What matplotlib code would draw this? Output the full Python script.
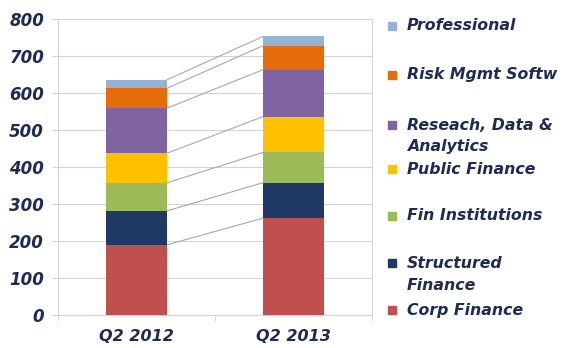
import numpy as np
import matplotlib
matplotlib.use("Agg")
import matplotlib.pyplot as plt
from matplotlib.patches import Rectangle

# revenue by business line, stacked bottom to top
periods = ["Q2 2012", "Q2 2013"]
segments = ["Corp Finance", "Structured\nFinance", "Fin Institutions", "Public Finance",
            "Reseach, Data &\nAnalytics", "Risk Mgmt Softw", "Professional"]
q2_2012 = [190, 92, 76, 80, 122, 54, 23]
q2_2013 = [262, 96, 82, 97, 127, 65, 25]
colors = ["#C0504D", "#1F3864", "#9BBB59", "#FFC000", "#8064A2", "#E46C0A", "#95B3D7"]

navy = "#1E2B52"
grid_col = "#D4D4D4"

values = np.array([q2_2012, q2_2013], dtype=float)
x = np.arange(len(periods))
width = 0.39

fig = plt.figure(figsize=(5.69, 3.48), dpi=100)
ax = fig.add_axes([0.102, 0.095, 0.552, 0.849])

bottoms = np.zeros(len(periods))
for i, name in enumerate(segments):
    ax.bar(x, values[:, i], width, bottom=bottoms, color=colors[i], zorder=3)
    bottoms += values[:, i]

# connector lines between the segment tops
tops = np.cumsum(values, axis=1)
for i in range(len(segments)):
    ax.plot([x[0] + width / 2, x[1] - width / 2], [tops[0, i], tops[1, i]],
            color="#A8A8A8", lw=0.8, zorder=2)

ax.set_xlim(-0.5, 1.5)
ax.set_ylim(0, 800)
ax.set_yticks(np.arange(0, 801, 100))
ax.yaxis.grid(True, color=grid_col, lw=0.8, zorder=0)
ax.set_xticks(x)
ax.set_xticklabels(periods)
ax.set_xticks([-0.5, 0.5, 1.5], minor=True)
ax.tick_params(axis="x", which="major", length=0, pad=10)
ax.tick_params(axis="x", which="minor", length=4, color=grid_col)
ax.tick_params(axis="y", length=4, color=grid_col, pad=6)
for lab in ax.get_xticklabels() + ax.get_yticklabels():
    lab.set_fontweight("bold")
    lab.set_fontstyle("italic")
    lab.set_fontsize(12)
    lab.set_color(navy)
for lab in ax.get_xticklabels():
    lab.set_fontsize(11.5)
for s in ["left", "right", "bottom"]:
    ax.spines[s].set_color(grid_col)
ax.spines["top"].set_visible(False)

# legend on the right, top entry first
legend_y = [26, 75, 125, 169, 216, 263, 310]
order = list(range(len(segments)))[::-1]
for yy, i in zip(legend_y, order):
    fy = 1 - yy / 348
    fig.patches.append(Rectangle((388 / 569, fy - 4 / 348), 8 / 569, 8 / 348,
                                 transform=fig.transFigure, color=colors[i]))
    lines = segments[i].split("\n")
    for k, line in enumerate(lines):
        fig.text(407 / 569, fy - k * 22 / 348, line, fontsize=11.3, fontweight="bold",
                 fontstyle="italic", color=navy, va="center", ha="left")

fig.savefig("out.png", dpi=100)
